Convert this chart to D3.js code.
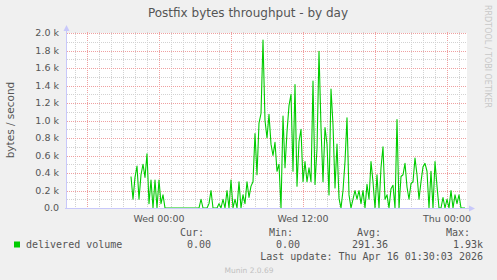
<!DOCTYPE html>
<html><head><meta charset="utf-8">
<script src="https://cdn.jsdelivr.net/npm/d3@7"></script>
<style>
html,body{margin:0;padding:0;background:#F0F0F0;}
svg{display:block;}
</style></head>
<body>
<script>
// ---- data ----
const title = "Postfix bytes throughput - by day";
const yLabel = "bytes / second";
const seriesName = "delivered volume";
const dataStart = new Date(2026, 3, 14, 21, 40); // Tue 21:40
const stepMinutes = 10;
const values = [
  360,100,350,480,100,380,500,350,620,50,
  320,0,320,0,320,50,150,0,0,0,
  0,0,0,0,0,0,0,0,0,0,
  0,0,0,0,0,100,0,0,0,50,
  200,0,0,0,50,0,100,0,200,0,
  320,0,100,0,300,0,150,50,300,120,
  250,300,850,380,970,1080,1920,1000,800,1070,
  730,600,750,420,500,0,1050,460,870,1170,
  1300,420,1410,250,760,900,300,530,300,460,
  300,1450,270,680,1790,920,300,920,730,150,
  1360,950,230,730,110,0,200,530,1030,150,
  0,100,200,100,200,50,200,0,270,100,
  530,300,0,380,0,460,700,100,150,0,
  220,260,0,1010,0,360,380,510,240,100,
  280,300,570,380,100,300,470,510,420,0,
  420,0,530,250,0,0,120,0,100,0,
  200,0,150,50,150,0,0,0
];
const yTicks = [0,200,400,600,800,1000,1200,1400,1600,1800,2000];
const yTickLabels = ["0.0","0.2 k","0.4 k","0.6 k","0.8 k","1.0 k","1.2 k","1.4 k","1.6 k","1.8 k","2.0 k"];
const xTickTimes = [new Date(2026,3,15,0,0), new Date(2026,3,15,12,0), new Date(2026,3,16,0,0)];
const xTickLabels = ["Wed 00:00","Wed 12:00","Thu 00:00"];
const legendHeads = ["Cur:","Min:","Avg:","Max:"];
const legendVals = ["0.00","0.00","291.36","1.93k"];
const lastUpdate = "Last update: Thu Apr 16 01:30:03 2026";
const footer = "Munin 2.0.69";
const sideText = "RRDTOOL / TOBI OETIKER";

// ---- layout ----
const W = 497, H = 280;
const X0 = 67, X1 = 467, Y0 = 208, Y1 = 33;
const tStart = new Date(2026,3,14,16,20), tEnd = new Date(2026,3,16,1,40);

const svg = d3.select("body").append("svg").attr("width", W).attr("height", H)
  .style("font-family", "'DejaVu Sans', sans-serif");
svg.append("rect").attr("width", W).attr("height", H).attr("fill", "#F0F0F0");

const x = d3.scaleTime().domain([tStart, tEnd]).range([X0, X1]);
const y = d3.scaleLinear().domain([0, 2000]).range([Y0, Y1]);

svg.append("rect").attr("x", X0).attr("y", Y1).attr("width", X1 - X0).attr("height", Y0 - Y1).attr("fill", "#FFFFFF");

// grid
const g = svg.append("g");
const hours = d3.timeHour.range(tStart, tEnd);
g.selectAll(".vm").data(hours).join("line")
  .attr("x1", d => Math.round(x(d)) + 0.5).attr("x2", d => Math.round(x(d)) + 0.5)
  .attr("y1", Y1 - 1).attr("y2", Y0)
  .attr("stroke", d => d.getHours() % 6 === 0 ? "#EFA0A0" : "#D2D2D2")
  .attr("stroke-dasharray", "1,1");
const minorY = d3.range(100, 2001, 100);
g.selectAll(".hm").data(minorY).join("line")
  .attr("x1", X0).attr("x2", X1)
  .attr("y1", d => Math.round(y(d)) + 0.5).attr("y2", d => Math.round(y(d)) + 0.5)
  .attr("stroke", d => d % 200 === 0 ? "#EFA0A0" : "#D2D2D2")
  .attr("stroke-dasharray", "1,1");

// y tick labels
svg.append("g").selectAll("text").data(yTicks).join("text")
  .attr("x", 59).attr("y", d => y(d)).attr("dy", "0.35em")
  .attr("text-anchor", "end").attr("font-size", 9.5).attr("fill", "#555")
  .text((d, i) => yTickLabels[i]);

// x tick labels
svg.append("g").selectAll("text").data(xTickTimes).join("text")
  .attr("x", d => x(d)).attr("y", 222)
  .attr("text-anchor", "middle").attr("font-size", 9.5).attr("fill", "#555")
  .text((d, i) => xTickLabels[i]);

// data line
const pts = values.map((v, i) => ({t: new Date(+dataStart + i * stepMinutes * 60000), v}));
const line = d3.line().x(d => x(d.t)).y(d => y(d.v));
svg.append("path").datum(pts).attr("d", line)
  .attr("fill", "none").attr("stroke", "#00CC00").attr("stroke-width", 1.1)
  .attr("stroke-linejoin", "round");

// axes
const axisColor = "#C8C8FA";
svg.append("line").attr("x1", X0 - 0.5).attr("x2", X0 - 0.5).attr("y1", Y0 + 1).attr("y2", Y1 - 4).attr("stroke", axisColor);
svg.append("line").attr("x1", X0 - 2).attr("x2", X1 + 3).attr("y1", Y0 + 0.5).attr("y2", Y0 + 0.5).attr("stroke", axisColor);
svg.append("path").attr("d", `M${X0-3.5},${Y1-2} L${X0-0.5},${Y1-8} L${X0+2.5},${Y1-2} Z`).attr("fill", axisColor);
svg.append("path").attr("d", `M${X1+2},${Y0-2.5} L${X1+8},${Y0+0.5} L${X1+2},${Y0+3.5} Z`).attr("fill", axisColor);

// title
svg.append("text").attr("x", 248).attr("y", 17).attr("text-anchor", "middle")
  .attr("font-size", 12).attr("fill", "#555").text(title);

// y label
svg.append("text").attr("transform", "translate(14,120) rotate(-90)")
  .attr("text-anchor", "middle").attr("font-size", 10.5).attr("fill", "#555").text(yLabel);

// side text
svg.append("text").attr("transform", "translate(485,5) rotate(90)")
  .attr("text-anchor", "start").attr("font-size", 8).attr("fill", "#C8C8C8").text(sideText);

// legend
const mono = "'DejaVu Sans Mono', monospace";
svg.append("rect").attr("x", 14).attr("y", 241.5).attr("width", 6).attr("height", 6).attr("fill", "#00CC00");
svg.append("text").attr("x", 26).attr("y", 248).attr("font-family", mono).attr("font-size", 10)
  .attr("fill", "#555").text(seriesName);
const headRight = [204, 293, 381, 470];
const valRight = [211, 300, 388, 483];
svg.append("g").selectAll("text").data(legendHeads).join("text")
  .attr("x", (d, i) => headRight[i]).attr("y", 236).attr("text-anchor", "end")
  .attr("font-family", mono).attr("font-size", 10).attr("fill", "#555").text(d => d);
svg.append("g").selectAll("text").data(legendVals).join("text")
  .attr("x", (d, i) => valRight[i]).attr("y", 248).attr("text-anchor", "end")
  .attr("font-family", mono).attr("font-size", 10).attr("fill", "#555").text(d => d);
svg.append("text").attr("x", 483).attr("y", 260).attr("text-anchor", "end")
  .attr("font-family", mono).attr("font-size", 10).attr("fill", "#555").text(lastUpdate);
svg.append("text").attr("x", 249).attr("y", 273).attr("text-anchor", "middle")
  .attr("font-size", 7.5).attr("fill", "#C0C0C0").text(footer);
</script>
</body></html>
